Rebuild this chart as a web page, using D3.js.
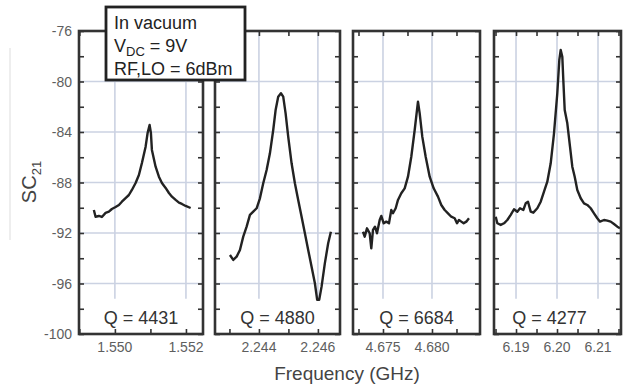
<!DOCTYPE html>
<html lang="en">
<head>
<meta charset="UTF-8">
<title>SC21 resonances</title>
<script src="https://d3js.org/d3.v7.min.js"></script>
<style>
    body { margin: 0; background: #fff; }
    svg { font-family: "Liberation Sans", Arial, sans-serif; }
    .tick line { stroke: #333; stroke-width: 1.6; }
    .domain { display: none; }
</style>
</head>
<body>
<svg width="629" height="388"></svg>
<script>
// values
let yMajor = [-100, -96, -92, -88, -84, -80, -76];
let yMarks = d3.range(-100, -75, 2);

let qLabels = ["Q = 4431", "Q = 4880", "Q = 6684", "Q = 4277"];

let p1Freq = [1.549408, 1.549456, 1.549549, 1.549634, 1.549738, 1.549831, 1.549915, 1.550020, 1.550113, 1.550197,
    1.550301, 1.550394, 1.550479, 1.550583, 1.550676, 1.550761, 1.550865, 1.550921, 1.550977, 1.551014,
    1.551042, 1.551146, 1.551239, 1.551324, 1.551428, 1.551521, 1.551606, 1.551710, 1.551803, 1.551887,
    1.551992, 1.552132];
let p1Sc21 = [-90.18, -90.71, -90.65, -90.73, -90.41, -90.31, -90.10, -89.94, -89.78, -89.52,
    -89.23, -88.99, -88.59, -88.04, -87.40, -86.45, -85.16, -84.08, -83.44, -84.08,
    -85.42, -86.75, -87.54, -88.04, -88.43, -88.83, -89.12, -89.38, -89.60, -89.70,
    -89.86, -90.02];

let p2Freq = [2.243017, 2.243129, 2.243244, 2.243356, 2.243468, 2.243583, 2.243695, 2.243807, 2.243922, 2.244034,
    2.244146, 2.244261, 2.244373, 2.244485, 2.244566, 2.244654, 2.244746, 2.244824, 2.244905, 2.244993,
    2.245108, 2.245220, 2.245332, 2.245447, 2.245559, 2.245671, 2.245786, 2.245898, 2.245976, 2.246044,
    2.246125, 2.246237, 2.246349, 2.246441];
let p2Sc21 = [-93.74, -94.13, -93.87, -93.34, -92.29, -91.50, -90.57, -90.31, -90.04, -89.25,
    -88.06, -87.01, -85.69, -83.84, -82.26, -81.20, -80.93, -81.20, -82.52, -84.37,
    -86.48, -88.06, -89.38, -90.71, -92.02, -93.34, -94.67, -95.98, -97.30, -97.30,
    -96.25, -94.39, -92.81, -91.90];

let p3Freq = [4.672959, 4.673133, 4.673367, 4.673643, 4.673806, 4.673980, 4.674184, 4.674388, 4.674663, 4.674827,
    4.675071, 4.675337, 4.675612, 4.675847, 4.676020, 4.676296, 4.676531, 4.676867, 4.677214, 4.677551,
    4.677888, 4.678235, 4.678469, 4.678571, 4.678745, 4.679010, 4.679357, 4.679765, 4.680173, 4.680612,
    4.680949, 4.681296, 4.681633, 4.681969, 4.682316, 4.682551, 4.682755, 4.682990, 4.683235, 4.683500,
    4.683776];
let p3Sc21 = [-91.90, -92.29, -91.63, -92.02, -93.21, -91.76, -91.50, -92.02, -90.97, -90.65,
    -91.23, -91.10, -91.23, -90.18, -90.44, -90.04, -89.38, -88.85, -88.46, -87.54,
    -85.96, -83.84, -82.26, -81.60, -82.52, -84.37, -85.96, -87.54, -88.46, -89.12,
    -89.78, -90.18, -90.44, -90.71, -90.83, -91.23, -90.97, -91.10, -91.23, -91.10,
    -90.83];

let p4Freq = [6.185049, 6.185439, 6.186268, 6.187073, 6.187878, 6.188707, 6.189512, 6.190317, 6.190976, 6.191780,
    6.192366, 6.192927, 6.193585, 6.194220, 6.195195, 6.196024, 6.196829, 6.197634, 6.198463, 6.199268,
    6.200073, 6.200561, 6.200902, 6.201293, 6.201537, 6.201878, 6.202512, 6.203171, 6.203732, 6.204317,
    6.204951, 6.205780, 6.206585, 6.207390, 6.208220, 6.209024, 6.209829, 6.210488, 6.211463, 6.212268,
    6.213098, 6.213902, 6.214707, 6.215366];
let p4Sc21 = [-90.71, -91.23, -91.36, -91.23, -90.97, -90.57, -90.12, -90.31, -90.04, -90.18,
    -89.65, -89.52, -90.31, -90.39, -90.04, -89.52, -88.73, -87.94, -86.48, -84.10,
    -80.93, -78.30, -77.50, -78.04, -79.88, -82.26, -83.31, -85.16, -86.75, -87.54,
    -88.59, -89.25, -89.65, -89.78, -90.04, -90.44, -90.83, -91.10, -90.97, -91.02,
    -91.10, -91.29, -91.50, -91.63];

let xDomains = [[1.54899, 1.55248], [2.24251, 2.24675], [4.67194, 4.68490], [6.18463, 6.21561]];
let xLabelTicks = [[1.550, 1.552], [2.244, 2.246], [4.675, 4.680], [6.19, 6.20, 6.21]];
let xMarkTicks = [
    [1.549, 1.550, 1.551, 1.552],
    [2.243, 2.244, 2.245, 2.246],
    [4.6725, 4.675, 4.6775, 4.680, 4.6825],
    [6.185, 6.19, 6.195, 6.20, 6.205, 6.21, 6.215]
];
let xFormats = [".3f", ".3f", ".3f", ".2f"];

let series = [
    { freq: p1Freq, sc21: p1Sc21 },
    { freq: p2Freq, sc21: p2Sc21 },
    { freq: p3Freq, sc21: p3Sc21 },
    { freq: p4Freq, sc21: p4Sc21 }
];

// layout
let panelX = [[79, 203], [215, 340], [353, 480], [494, 621]];
let qShift = [0, 0, 0, -8];
let plotTop = 31, plotBottom = 334;

let svg = d3.select("svg");

let y = d3.scaleLinear().domain([-100, -76]).range([plotBottom, plotTop]);

series.forEach((s, i) => {
    let x = d3.scaleLinear().domain(xDomains[i]).range(panelX[i]);
    let g = svg.append("g");
    let x0 = panelX[i][0], x1 = panelX[i][1];

    // grid
    g.selectAll(".hgrid")
        .data(yMajor.slice(1, -1))
        .enter().append("line")
        .attr("x1", x0).attr("x2", x1)
        .attr("y1", d => y(d)).attr("y2", d => y(d))
        .attr("stroke", "#cbd2e2")
        .attr("stroke-width", 1.6);

    g.selectAll(".vgrid")
        .data(xLabelTicks[i])
        .enter().append("line")
        .attr("x1", d => x(d)).attr("x2", d => x(d))
        .attr("y1", plotTop).attr("y2", y(-97.2))
        .attr("stroke", "#cbd2e2")
        .attr("stroke-width", 1.6);

    // ticks, all pointing inward
    g.append("g")
        .attr("transform", `translate(0,${plotBottom})`)
        .call(d3.axisBottom(x).tickValues(xMarkTicks[i]).tickSize(-5).tickFormat(""));
    g.append("g")
        .attr("transform", `translate(0,${plotTop})`)
        .call(d3.axisTop(x).tickValues(xMarkTicks[i]).tickSize(-5).tickFormat(""));
    g.append("g")
        .attr("transform", `translate(${x0},0)`)
        .call(d3.axisLeft(y).tickValues(yMarks).tickSize(-5).tickFormat(""));
    g.append("g")
        .attr("transform", `translate(${x1},0)`)
        .call(d3.axisRight(y).tickValues(yMarks).tickSize(-5).tickFormat(""));

    // tick labels
    let fmt = d3.format(xFormats[i]);
    g.selectAll(".xlab")
        .data(xLabelTicks[i])
        .enter().append("text")
        .attr("x", d => x(d))
        .attr("y", 352)
        .attr("text-anchor", "middle")
        .attr("fill", "#5e5e5e")
        .attr("font-size", "14px")
        .text(d => fmt(d));

    if (i === 0) {
        g.selectAll(".ylab")
            .data(yMajor)
            .enter().append("text")
            .attr("x", x0 - 7)
            .attr("y", d => y(d) + 5)
            .attr("text-anchor", "end")
            .attr("fill", "#5e5e5e")
            .attr("font-size", "14px")
            .text(d => String(d));
    }

    // trace
    let line = d3.line()
        .x(d => x(d[0]))
        .y(d => y(d[1]));
    g.append("path")
        .datum(d3.zip(s.freq, s.sc21))
        .attr("d", line)
        .attr("fill", "none")
        .attr("stroke", "#222")
        .attr("stroke-width", 2.4)
        .attr("stroke-linejoin", "round");

    // frame
    g.append("rect")
        .attr("x", x0).attr("y", plotTop)
        .attr("width", x1 - x0).attr("height", plotBottom - plotTop)
        .attr("fill", "none")
        .attr("stroke", "#333")
        .attr("stroke-width", 2.6);

    g.append("text")
        .attr("x", (x0 + x1) / 2 + qShift[i])
        .attr("y", 324)
        .attr("text-anchor", "middle")
        .attr("fill", "#333")
        .attr("font-size", "18px")
        .text(qLabels[i]);
});

// axis titles
svg.append("text")
    .attr("x", 347)
    .attr("y", 380)
    .attr("text-anchor", "middle")
    .attr("fill", "#444")
    .attr("font-size", "19px")
    .text("Frequency (GHz)");

let yt = svg.append("text")
    .attr("transform", "translate(36,182) rotate(-90)")
    .attr("text-anchor", "middle")
    .attr("fill", "#444")
    .attr("font-size", "20px");
yt.append("tspan").text("SC");
yt.append("tspan").attr("font-size", "13px").attr("dy", 5).text("21");

svg.append("line")
    .attr("x1", 10).attr("x2", 10)
    .attr("y1", 48).attr("y2", 240)
    .attr("stroke", "#ddd")
    .attr("stroke-width", 1);

// conditions box
svg.append("rect")
    .attr("x", 106).attr("y", 7)
    .attr("width", 139).attr("height", 73)
    .attr("fill", "#fff")
    .attr("stroke", "#222")
    .attr("stroke-width", 2.8);

let box = svg.append("g").attr("fill", "#222").attr("font-size", "18px");
box.append("text").attr("x", 114).attr("y", 29).text("In vacuum");
let vdc = box.append("text").attr("x", 114).attr("y", 52);
vdc.append("tspan").text("V");
vdc.append("tspan").attr("font-size", "13px").attr("dy", 4).text("DC");
vdc.append("tspan").attr("dy", -4).text(" = 9V");
box.append("text").attr("x", 114).attr("y", 75).text("RF,LO = 6dBm");
</script>
</body>
</html>
